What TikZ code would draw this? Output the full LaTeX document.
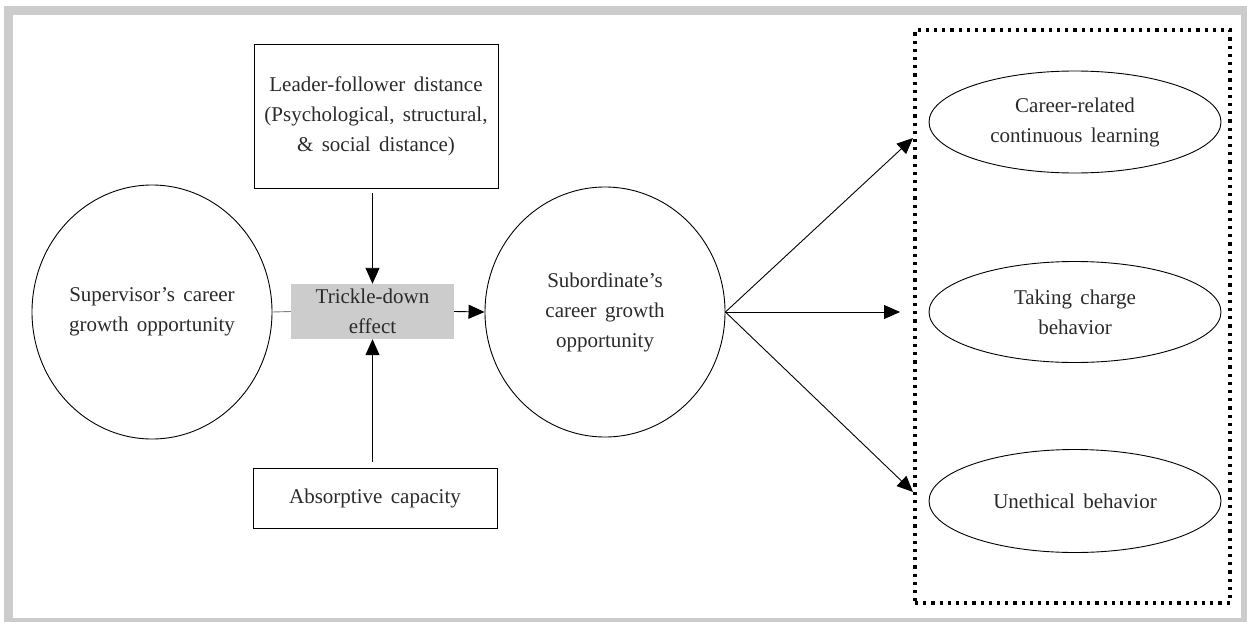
\documentclass[tikz,border=0pt]{standalone}
\usepackage{fontspec}
\setmainfont{Liberation Serif}[WordSpace=1.6]
\usetikzlibrary{shapes.geometric,arrows.meta}
\definecolor{framegray}{HTML}{CCCCCC}
\definecolor{boxgray}{HTML}{CCCCCC}
\definecolor{ink}{HTML}{2A2A2A}
\begin{document}
\begin{tikzpicture}[x=1pt,y=-1pt,
  every node/.style={font=\fontsize{21}{30}\selectfont, text=ink, align=center, inner sep=0pt},
  circ/.style={draw, ellipse, line width=0.9pt},
  oval/.style={draw, ellipse, line width=0.9pt, minimum width=292pt},
  plainbox/.style={draw, rectangle, line width=0.9pt},
  link/.style={line width=0.9pt, -{Triangle[length=16pt,width=14pt]}},
]
\useasboundingbox (0,0) rectangle (1247,621);
% outer gray frame
\draw[framegray, line width=9pt] (8.5,10) rectangle (1245.5,622.5);

% left side: antecedent, moderators and mechanism
\node[circ, minimum width=240pt, minimum height=254pt] (sup) at (152,312)
  {Supervisor's career\\growth opportunity};
\node[rectangle, fill=boxgray, minimum width=163pt, minimum height=55pt] (trick) at (372.5,311.5)
  {Trickle-down\\effect};
\node[plainbox, minimum width=244pt, minimum height=144pt] (lead) at (376,116)
  {Leader-follower distance\\(Psychological, structural,\\\& social distance)};
\node[plainbox, minimum width=244pt, minimum height=60pt] (abs) at (375,498)
  {Absorptive capacity};
\node[circ, minimum width=240pt, minimum height=250pt] (sub) at (605,312)
  {Subordinate's\\career growth\\opportunity};

% outcomes inside the dotted group
\node[draw, rectangle, line width=3.2pt, dash pattern=on 3.2pt off 5pt,
      minimum width=315pt, minimum height=573pt] (grp) at (1072.5,316.5) {};
\node[oval, minimum height=102pt] (out1) at (1075,122) {Career-related\\continuous learning};
\node[oval, minimum height=101pt] (out2) at (1075,312) {Taking charge\\behavior};
\node[oval, minimum height=103pt] (out3) at (1075,501) {Unethical behavior};

\coordinate (t1) at (913,138);
\coordinate (t2) at (900,312);
\coordinate (t3) at (913,492);

% connectors
\draw[gray, line width=0.9pt] (sup.east) -- (trick.west);
\draw[link] (lead.south -| trick.north) ++(0,5) -- (trick.north);
\draw[link] (abs.north -| trick.south) ++(0,-6) -- (trick.south);
\draw[link] (trick.east) -- (sub.west);
\draw[link] (sub.east) -- (t1);
\draw[link] (sub.east) -- (t2);
\draw[link] (sub.east) -- (t3);
\end{tikzpicture}
\end{document}
